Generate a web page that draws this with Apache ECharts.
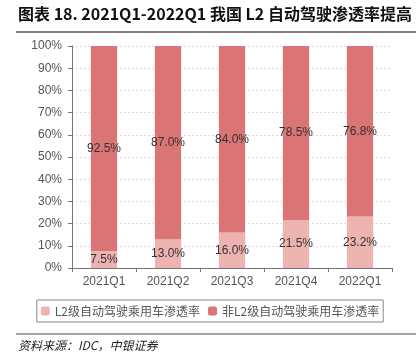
<!DOCTYPE html>
<html><head><meta charset="utf-8">
<script src="https://cdn.jsdelivr.net/npm/echarts@6/dist/echarts.min.js"></script>
<style>html,body{margin:0;padding:0;background:#fff}#c{width:420px;height:363px}</style>
</head><body><div id="c"></div>
<script>
const categories = ['2021Q1','2021Q2','2021Q3','2021Q4','2022Q1'];
const l2Values = [7.5, 13.0, 16.0, 21.5, 23.2];
const nonL2Values = [92.5, 87.0, 84.0, 78.5, 76.8];
const seriesNames = ['L2级自动驾驶乘用车渗透率','非L2级自动驾驶乘用车渗透率'];
const titleText = '图表 18. 2021Q1-2022Q1 我国 L2 自动驾驶渗透率提高';
const sourceText = '资料来源：IDC，中银证券';

const chart = echarts.init(document.getElementById('c'));
const labelStyle = {show:true, position:'inside', color:'#333', fontSize:12, fontFamily:'Liberation Sans, Arial', formatter: p => p.value.toFixed(1) + '%'};
chart.setOption({
  animation:false,
  textStyle:{fontFamily:'Liberation Sans, Arial'},
  grid:{left:72, right:28, top:46, bottom:95},
  xAxis:{type:'category', data:categories,
    axisLine:{lineStyle:{color:'#777'}}, axisTick:{show:true, lineStyle:{color:'#777'}, length:4},
    axisLabel:{color:'#555', fontSize:12, margin:8}},
  yAxis:{type:'value', min:0, max:100, interval:10,
    axisLine:{show:true, lineStyle:{color:'#777'}}, axisTick:{show:true, length:4, inside:false, lineStyle:{color:'#777'}},
    axisLabel:{color:'#555', fontSize:12, formatter:'{value}%', margin:10},
    splitLine:{lineStyle:{color:'#ddd', type:[2,2]}}},
  legend:{bottom:41, left:'center', itemWidth:9, itemHeight:9, itemGap:8,
    borderColor:'#888', borderWidth:1, padding:[5,4,5,4],
    textStyle:{color:'#555', fontSize:12, fontFamily:'Noto Sans CJK SC'},
    data:seriesNames},
  series:[
    {name:seriesNames[0], type:'bar', stack:'s', data:l2Values, barWidth:'41%',
      itemStyle:{color:'#EDB3B0'}, label:labelStyle},
    {name:seriesNames[1], type:'bar', stack:'s', data:nonL2Values, barWidth:'41%',
      itemStyle:{color:'#DA7475'}, label:labelStyle}
  ],
  graphic:[
    {type:'text', left:18, top:6, style:{text:titleText, fontSize:16, fontWeight:'bold', fill:'#111', fontFamily:'Noto Sans CJK SC'}},
    {type:'line', shape:{x1:16, y1:32, x2:416, y2:32}, style:{stroke:'#555', lineWidth:1.5}},
    {type:'line', shape:{x1:16, y1:334, x2:416, y2:334}, style:{stroke:'#888', lineWidth:1.5}},
    {type:'text', left:18, top:339, style:{text:sourceText, fontSize:12, fontStyle:'italic', fill:'#222', fontFamily:'Noto Sans CJK SC'}}
  ]
});
</script></body></html>
